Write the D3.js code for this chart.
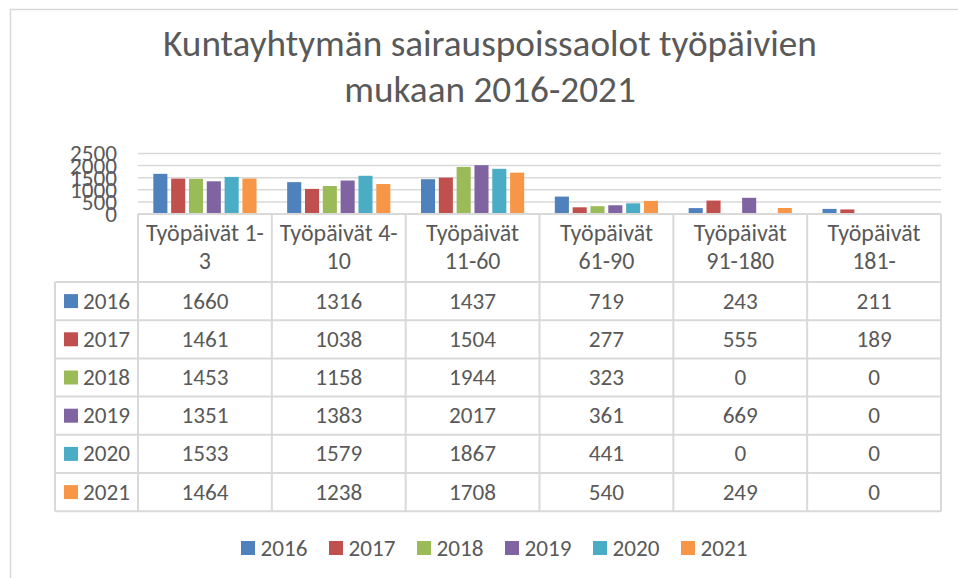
<!DOCTYPE html>
<html>
<head>
<meta charset="utf-8">
<script src="https://cdn.jsdelivr.net/npm/d3@7"></script>
<style>
  body { margin: 0; background: #fff; }
  svg { display: block; font-family: Calibri, Carlito, Lato, sans-serif; }
</style>
</head>
<body>
<svg width="958" height="578"></svg>
<script>
var categories = ["Työpäivät 1-3", "Työpäivät 4-10", "Työpäivät 11-60", "Työpäivät 61-90", "Työpäivät 91-180", "Työpäivät 181-"];
var headerLines = [["Työpäivät 1-", "3"], ["Työpäivät 4-", "10"], ["Työpäivät", "11-60"], ["Työpäivät", "61-90"], ["Työpäivät", "91-180"], ["Työpäivät", "181-"]];
var years = ["2016", "2017", "2018", "2019", "2020", "2021"];
var v2016 = [1660, 1316, 1437, 719, 243, 211];
var v2017 = [1461, 1038, 1504, 277, 555, 189];
var v2018 = [1453, 1158, 1944, 323, 0, 0];
var v2019 = [1351, 1383, 2017, 361, 669, 0];
var v2020 = [1533, 1579, 1867, 441, 0, 0];
var v2021 = [1464, 1238, 1708, 540, 249, 0];
var yTicks = [0, 500, 1000, 1500, 2000, 2500];
var colors = ["#4F81BD", "#C0504D", "#9BBB59", "#8064A2", "#4BACC6", "#F79646"];

var series = [v2016, v2017, v2018, v2019, v2020, v2021];
var textColor = "#595959", lineColor = "#d9d9d9";

var svg = d3.select("svg");

// size a font so that a sample string gets a given width
function fitSize(sample, width, base) {
  var t = svg.append("text").attr("font-size", base).text(sample);
  var w = t.node().getComputedTextLength();
  t.remove();
  return base * width / w;
}
var titleSize = fitSize("Kuntayhtymän sairauspoissaolot työpäivien", 654, 30);
var bodySize = fitSize("1660", 47, 20);
var headSize = fitSize("Työpäivät 1-", 118, 20);

// chart border
svg.append("rect").attr("x", 10.5).attr("y", 9.5).attr("width", 960).attr("height", 600)
   .attr("fill", "none").attr("stroke", lineColor).attr("stroke-width", 1.5);

// title
svg.append("text").attr("x", 490).attr("y", 56).attr("text-anchor", "middle")
   .attr("font-size", titleSize).attr("fill", textColor)
   .text("Kuntayhtymän sairauspoissaolot työpäivien");
svg.append("text").attr("x", 490).attr("y", 102).attr("text-anchor", "middle")
   .attr("font-size", titleSize).attr("fill", textColor)
   .text("mukaan 2016-2021");

var plotLeft = 138, plotRight = 941, plotTop = 153.5, plotBase = 214;
var x0 = d3.scaleBand().domain(categories).range([plotLeft, plotRight]);
var x1 = d3.scaleBand().domain(years).range([0, x0.bandwidth()])
           .paddingInner(0.21).paddingOuter(0.86);
var y = d3.scaleLinear().domain([0, 2500]).range([plotBase, plotTop]);

// gridlines
svg.append("g").selectAll("line").data(yTicks.slice(1)).enter().append("line")
   .attr("x1", plotLeft).attr("x2", plotRight)
   .attr("y1", function(d) { return y(d); }).attr("y2", function(d) { return y(d); })
   .attr("stroke", lineColor).attr("stroke-width", 1.5);

// y axis labels
var yAxis = svg.append("g").attr("transform", "translate(117,0)")
   .call(d3.axisLeft(y).tickValues(yTicks).tickFormat(d3.format("d")).tickSize(0).tickPadding(0));
yAxis.select(".domain").remove();
yAxis.selectAll("text").attr("font-size", bodySize).attr("fill", textColor)
   .attr("font-family", "Calibri, Carlito, Lato, sans-serif");

// bars
var groups = svg.append("g").selectAll("g").data(categories).enter().append("g")
   .attr("transform", function(d) { return "translate(" + x0(d) + ",0)"; });
groups.selectAll("rect")
   .data(function(d, i) { return years.map(function(yr, j) { return { year: yr, value: series[j][i], c: j }; }); })
   .enter().append("rect")
   .attr("x", function(d) { return x1(d.year); })
   .attr("width", x1.bandwidth())
   .attr("y", function(d) { return y(d.value); })
   .attr("height", function(d) { return plotBase - y(d.value); })
   .attr("fill", function(d) { return colors[d.c]; });

// data table
var tableLeft = 55, headBottom = 282, rowH = 38.2;
var tbl = svg.append("g").attr("stroke", lineColor).attr("stroke-width", 2);
tbl.append("line").attr("x1", plotLeft).attr("x2", plotRight).attr("y1", plotBase).attr("y2", plotBase);
categories.concat(["end"]).forEach(function(c, i) {
  var xx = i < categories.length ? x0(c) : plotRight;
  tbl.append("line").attr("x1", xx).attr("x2", xx).attr("y1", plotBase).attr("y2", headBottom + rowH * years.length);
});
tbl.append("line").attr("x1", tableLeft).attr("x2", tableLeft)
   .attr("y1", headBottom).attr("y2", headBottom + rowH * years.length);
d3.range(years.length + 1).forEach(function(r) {
  var yy = headBottom + r * rowH;
  tbl.append("line").attr("x1", tableLeft).attr("x2", plotRight).attr("y1", yy).attr("y2", yy);
});

// header text
var head = svg.append("g").selectAll("text").data(categories).enter().append("text")
   .attr("text-anchor", "middle").attr("font-size", headSize).attr("fill", textColor);
head.selectAll("tspan").data(function(d, i) { return headerLines[i]; }).enter().append("tspan")
   .attr("x", function() { return x0(d3.select(this.parentNode).datum()) + x0.bandwidth() / 2; })
   .attr("y", function(d, i) { return 241 + i * 28; })
   .text(function(d) { return d; });

// table rows
var rows = svg.append("g").selectAll("g").data(years).enter().append("g")
   .attr("transform", function(d, i) { return "translate(0," + (headBottom + i * rowH) + ")"; });
rows.append("rect").attr("x", 64).attr("y", rowH / 2 - 7).attr("width", 14).attr("height", 14)
   .attr("fill", function(d, i) { return colors[i]; });
rows.append("text").attr("x", 83).attr("y", rowH / 2 + 7.5)
   .attr("font-size", bodySize).attr("fill", textColor)
   .text(function(d) { return d; });
rows.selectAll("text.val")
   .data(function(d, i) { return series[i]; })
   .enter().append("text").attr("class", "val")
   .attr("x", function(d, i) { return x0(categories[i]) + x0.bandwidth() / 2; })
   .attr("y", rowH / 2 + 7.5)
   .attr("text-anchor", "middle").attr("font-size", bodySize).attr("fill", textColor)
   .text(function(d) { return d; });

// legend
var legend = svg.append("g").selectAll("g").data(years).enter().append("g")
   .attr("transform", function(d, i) { return "translate(" + (241 + i * 88) + ",541)"; });
legend.append("rect").attr("width", 14).attr("height", 14)
   .attr("fill", function(d, i) { return colors[i]; });
legend.append("text").attr("x", 19.5).attr("y", 14.5)
   .attr("font-size", bodySize).attr("fill", textColor)
   .text(function(d) { return d; });
</script>
</body>
</html>
